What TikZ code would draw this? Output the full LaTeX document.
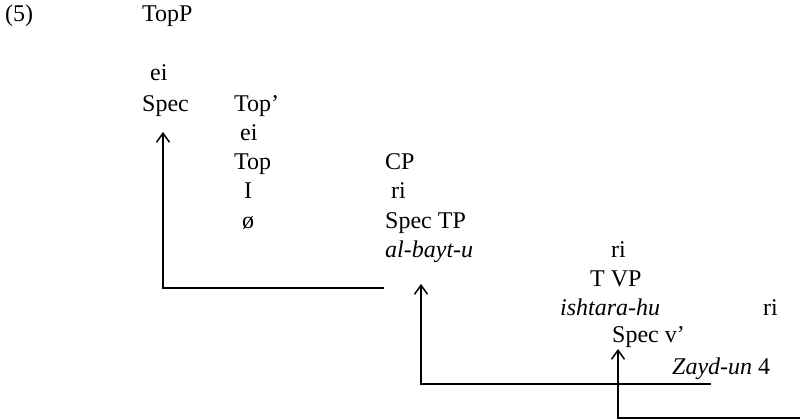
\documentclass[tikz,border=0pt]{standalone}
\usepackage{fontspec}
\setmainfont{Liberation Serif}
\usetikzlibrary{arrows.meta}
\begin{document}
\begin{tikzpicture}[x=1pt,y=-1pt,
  lbl/.style={anchor=base west,inner sep=0pt,font=\fontsize{24}{29}\selectfont},
  arr/.style={line width=1.5pt,-{Straight Barb[length=9pt,width=13pt,line width=1.5pt]}}]
\useasboundingbox (0,0) rectangle (800,420);
\node[lbl] (ex) at (5,22) {(5)};
\node[lbl] (topp) at (142,22) {TopP};
\node[lbl] (ei1) at (150,81) {ei};
\node[lbl] (spec1) at (142,111) {Spec};
\node[lbl] (topbar) at (234,111) {Top’};
\node[lbl] (ei2) at (240,140) {ei};
\node[lbl] (top) at (234,169) {Top};
\node[lbl] (I) at (244,198) {I};
\node[lbl] (null) at (242,228) {ø};
\node[lbl] (cp) at (385,169) {CP};
\node[lbl] (ri1) at (391,198) {ri};
\node[lbl] (spectp) at (385,228) {Spec TP};
\node[lbl] (bayt) at (385,257) {\itshape al-bayt-u};
\node[lbl] (ri2) at (611,257) {ri};
\node[lbl] (tvp) at (590,286) {T VP};
\node[lbl] (ishtara) at (560,315) {\itshape ishtara-hu};
\node[lbl] (ri3) at (763,315) {ri};
\node[lbl] (specv) at (612,342) {Spec v’};
\node[lbl] (zayd) at (672,374) {\itshape Zayd-un\/\upshape{} 4};
% movement paths
\coordinate (s1) at (384,288);
\coordinate (c1) at (163,288);
\coordinate (t1) at (163,132);
\coordinate (s2) at (711,384);
\coordinate (c2) at (421,384);
\coordinate (t2) at (421,284);
\coordinate (s3) at (800,418);
\coordinate (c3) at (618,418);
\coordinate (t3) at (618,349);
\draw[arr] (s1) -- (c1) -- (t1);
\draw[arr] (s2) -- (c2) -- (t2);
\draw[arr] (s3) -- (c3) -- (t3);
\end{tikzpicture}
\end{document}
